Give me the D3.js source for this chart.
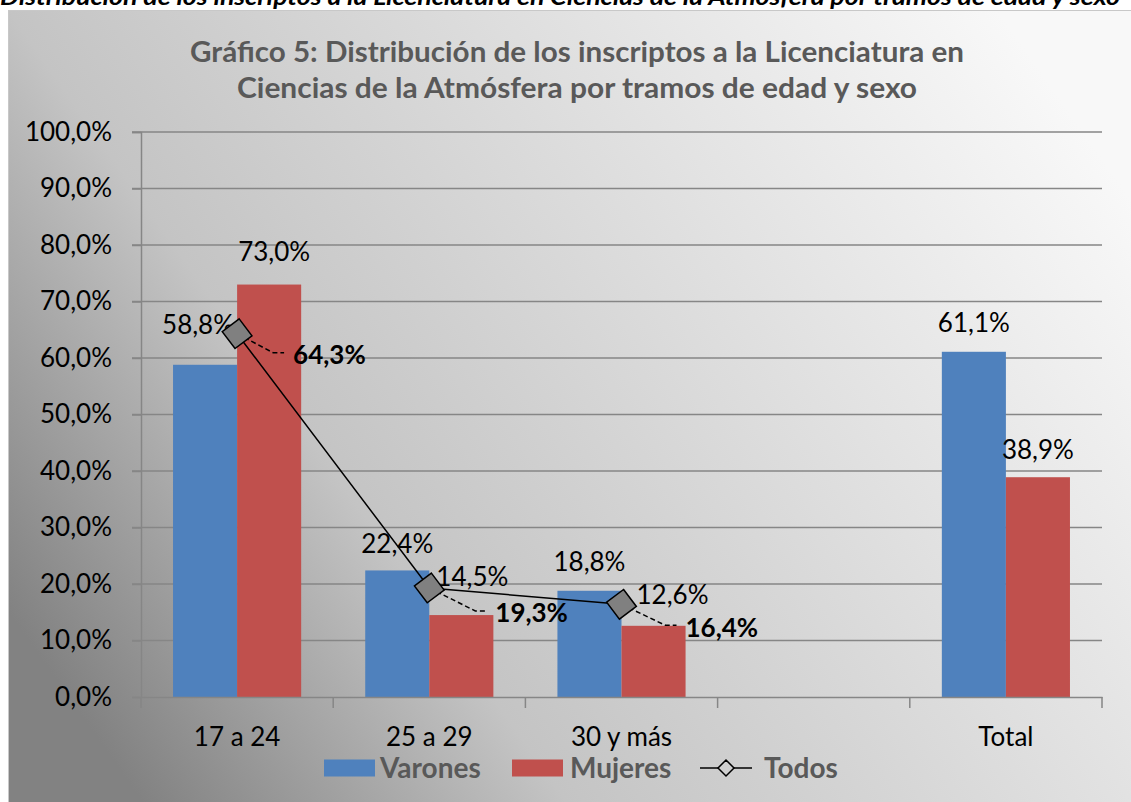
<!DOCTYPE html>
<html><head><meta charset="utf-8">
<script src="https://cdn.jsdelivr.net/npm/d3@7"></script>
<style>html,body{margin:0;padding:0;background:#fff;overflow:hidden}svg{display:block}</style>
</head><body>
<script>
// ---- data ----
const categories = ["17 a 24", "25 a 29", "30 y más", " ", "Total"];
const varones = [58.8, 22.4, 18.8, null, 61.1];
const mujeres = [73.0, 14.5, 12.6, null, 38.9];
const todos = [64.3, 19.3, 16.4, null, null];
const yTicks = [0, 10, 20, 30, 40, 50, 60, 70, 80, 90, 100];
const seriesNames = ["Varones", "Mujeres", "Todos"];
const caption = "Distribución de los inscriptos a la Licenciatura en Ciencias de la Atmósfera por tramos de edad y sexo";
const titleLines = ["Gráfico 5: Distribución de los inscriptos a la Licenciatura en", "Ciencias de la Atmósfera por tramos de edad y sexo"];
// label nudges (px) for manually placed data labels
const varonesNudge = [[-7, -12], [0, 1], [0, -1], [0, 0], [0, -1]];
const mujeresNudge = [[5, -5], [11, -10], [19, -3], [0, 0], [0, 0]];
const todosNudge = [[56, 21], [66, 25], [64, 23]];

const W = 1131, H = 802;
const fmt = v => d3.format(".1f")(v).replace(".", ",") + "%";
const FONT = "Lato, 'Open Sans', sans-serif";
const BLUE = "#4F81BD", RED = "#C0504D";

const svg = d3.select("body").append("svg").attr("width", W).attr("height", H);
const defs = svg.append("defs");
const g = defs.append("linearGradient").attr("id", "bg")
  .attr("x1", 0).attr("y1", 0.75).attr("x2", 1).attr("y2", 0.25);
[[0, "#828282"], [0.3, "#c4c4c4"], [0.7, "#e2e2e2"], [1, "#f8f8f8"]].forEach(s =>
  g.append("stop").attr("offset", s[0]).attr("stop-color", s[1]));

// caption (cut off at top, as in the source)
svg.append("text").attr("x", 0).attr("y", 5)
  .attr("font-family", FONT).attr("font-weight", "bold").attr("font-style", "italic")
  .attr("font-size", 22).attr("fill", "#000")
  .attr("textLength", 1120).attr("lengthAdjust", "spacingAndGlyphs").text(caption);

// chart box
svg.append("rect").attr("x", 8.5).attr("y", 10.5).attr("width", W).attr("height", H)
  .attr("fill", "url(#bg)").attr("stroke", "#c8c8c8").attr("stroke-width", 1);

// title
const titleY = [62, 98], titleW = [774, 680];
titleLines.forEach((t, i) => {
  svg.append("text").attr("x", 577).attr("y", titleY[i]).attr("text-anchor", "middle")
    .attr("font-family", FONT).attr("font-weight", "bold").attr("font-size", 28)
    .attr("fill", "#595959")
    .attr("textLength", titleW[i]).attr("lengthAdjust", "spacingAndGlyphs").text(t);
});

// scales
const x = d3.scaleBand().domain(categories).range([141, 1102]).paddingInner(0).paddingOuter(0);
const x1 = d3.scaleBand().domain(["Varones", "Mujeres"]).range([0, x.bandwidth()]).paddingInner(0).paddingOuter(0.5);
const y = d3.scaleLinear().domain([0, 100]).range([697, 132]);

// gridlines
svg.append("g").selectAll("line").data(yTicks.filter(d => d > 0)).join("line")
  .attr("x1", 132).attr("x2", 1102).attr("y1", d => y(d)).attr("y2", d => y(d))
  .attr("stroke", "#868686").attr("stroke-width", 1.5);

// y axis
const yAxis = svg.append("g").attr("transform", "translate(141,0)")
  .call(d3.axisLeft(y).tickValues(yTicks).tickSize(9).tickPadding(20).tickFormat(fmt));
yAxis.select(".domain").attr("stroke", "#868686").attr("stroke-width", 1.5);
yAxis.selectAll(".tick line").attr("stroke", "#868686").attr("stroke-width", 1.5);
yAxis.selectAll(".tick text").attr("font-family", FONT).attr("font-size", 26).attr("fill", "#000");

// bars
const bars = svg.append("g");
[[varones, "Varones", BLUE], [mujeres, "Mujeres", RED]].forEach(([vals, key, col]) => {
  bars.selectAll(null).data(vals.map((v, i) => ({ v, c: categories[i] })).filter(d => d.v != null))
    .join("rect")
    .attr("x", d => x(d.c) + x1(key)).attr("width", x1.bandwidth())
    .attr("y", d => y(d.v)).attr("height", d => y(0) - y(d.v))
    .attr("fill", col);
});

// x axis
const xAxis = svg.append("g").attr("transform", "translate(0,697)")
  .call(d3.axisBottom(x).tickSize(0).tickPadding(31));
xAxis.select(".domain").attr("stroke", "#868686").attr("stroke-width", 1.5);
xAxis.selectAll(".tick text").attr("font-family", FONT).attr("font-size", 26).attr("fill", "#000");
svg.append("g").selectAll("line")
  .data(categories.map(c => x(c)).concat([x.range()[1]])).join("line")
  .attr("x1", d => d).attr("x2", d => d).attr("y1", 697).attr("y2", 708)
  .attr("stroke", "#868686").attr("stroke-width", 1.5);

// bar labels
const labels = svg.append("g").attr("font-family", FONT).attr("font-size", 26).attr("fill", "#000").attr("text-anchor", "middle");
[[varones, "Varones", varonesNudge], [mujeres, "Mujeres", mujeresNudge]].forEach(([vals, key, nudge]) => {
  vals.forEach((v, i) => {
    if (v == null) return;
    labels.append("text")
      .attr("x", x(categories[i]) + x1(key) + x1.bandwidth() / 2 + nudge[i][0])
      .attr("y", y(v) - 28 + nudge[i][1]).attr("dy", "0.36em").text(fmt(v));
  });
});

// Todos line
const tPts = todos.map((v, i) => ({ v, c: categories[i] })).filter(d => d.v != null);
const cx = d => x(d.c) + x.bandwidth() / 2;
svg.append("path").datum(tPts)
  .attr("d", d3.line().x(cx).y(d => y(d.v)))
  .attr("fill", "none").attr("stroke", "#000").attr("stroke-width", 1.5);

// leader lines + labels
tPts.forEach((d, i) => {
  const px = cx(d), py = y(d.v);
  const lx = px + todosNudge[i][0], ly = py + todosNudge[i][1];
  svg.append("path")
    .attr("d", `M${px},${py}L${lx - 20},${ly - 2}L${lx - 9},${ly - 2}`)
    .attr("fill", "none").attr("stroke", "#000").attr("stroke-width", 1.5).attr("stroke-dasharray", "5,3");
  svg.append("text").attr("x", lx).attr("y", ly).attr("dy", "0.36em")
    .attr("font-family", FONT).attr("font-weight", "bold").attr("font-size", 26).attr("fill", "#000")
    .text(fmt(d.v));
});

// markers
const diamond = s => `M0,${-s}L${s},0L0,${s}L${-s},0Z`;
svg.append("g").selectAll("path").data(tPts).join("path")
  .attr("transform", d => `translate(${cx(d)},${y(d.v)}) rotate(8)`)
  .attr("d", diamond(15)).attr("fill", "#808080").attr("stroke", "#000").attr("stroke-width", 1.5);

// legend
const leg = svg.append("g").attr("font-family", FONT).attr("font-weight", "bold").attr("font-size", 28).attr("fill", "#595959");
const lgY = 768;
leg.append("rect").attr("x", 324).attr("y", lgY - 8.5).attr("width", 51).attr("height", 17).attr("fill", BLUE);
leg.append("text").attr("x", 380).attr("y", lgY).attr("dy", "0.36em").text(seriesNames[0]);
leg.append("rect").attr("x", 512).attr("y", lgY - 8.5).attr("width", 51).attr("height", 17).attr("fill", RED);
leg.append("text").attr("x", 570).attr("y", lgY).attr("dy", "0.36em").text(seriesNames[1]);
leg.append("line").attr("x1", 700).attr("x2", 752).attr("y1", lgY).attr("y2", lgY).attr("stroke", "#000").attr("stroke-width", 1.5);
leg.append("path").attr("transform", `translate(726,${lgY})`).attr("d", diamond(8))
  .attr("fill", "#d0d0d0").attr("stroke", "#000").attr("stroke-width", 1.5);
leg.append("text").attr("x", 764).attr("y", lgY).attr("dy", "0.36em").text(seriesNames[2]);
</script>
</body></html>
